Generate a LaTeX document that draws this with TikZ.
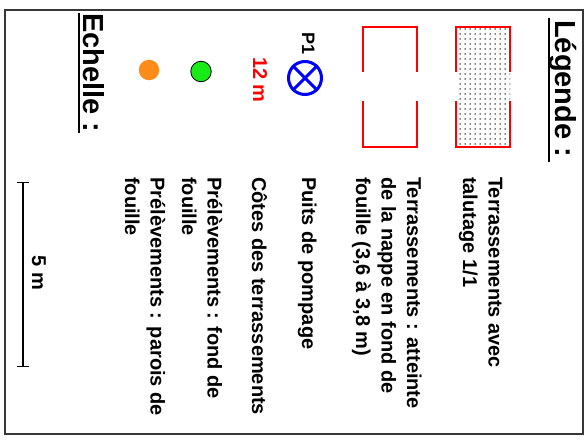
\documentclass[tikz,border=0pt]{standalone}
\usepackage{fontspec}
\setmainfont{Liberation Sans}
\usetikzlibrary{arrows.meta, patterns.meta}
\definecolor{zonered}{RGB}{255, 0, 0}
\definecolor{wellblue}{RGB}{0, 0, 255}
\definecolor{fondgreen}{RGB}{25, 235, 25}
\definecolor{paroiorange}{RGB}{255, 140, 25}
\definecolor{framegray}{RGB}{55, 55, 55}

\begin{document}
\begin{tikzpicture}[
        x=1pt, y=-1pt,
        legtext/.style={rotate=-90, anchor=base west, inner sep=0pt, align=left, font=\fontsize{20}{25.5}\selectfont\bfseries},
        legtitle/.style={rotate=-90, anchor=base west, inner sep=0pt, font=\fontsize{29}{34}\selectfont\bfseries},
        zone/.style={draw=zonered, line width=2pt},
        sample/.style={circle, minimum size=20.5pt, inner sep=0pt},
        scalebar/.style={{Bar[width=12pt]}-{Bar[width=12pt]}, line width=1.2pt}
    ]
        \useasboundingbox (0,0) rectangle (588,439);
        \draw[framegray, line width=2pt] (5,10) rectangle (583,434);

        % Titles
        \node[legtitle] (legende) at (555,20) {Légende :};
        \draw[line width=2pt] ([yshift=2pt]legende.south west) -- ([yshift=-5pt]legende.south east);
        \node[legtitle] (echelle) at (83,13) {Echelle :};
        \draw[line width=2pt] ([xshift=-4pt]echelle.south west) -- ([xshift=-4pt]echelle.south east);

        % Symbols (left column)
        \fill[pattern={Dots[distance=5pt, radius=0.75pt]}] (456,27) rectangle (510,147);
        \draw[zone] (456,72) |- (510,27) -- (510,72);
        \draw[zone] (456,101) |- (510,147) -- (510,101);
        \draw[zone] (363,72) |- (417,27) -- (417,72);
        \draw[zone] (363,101) |- (417,147) -- (417,101);
        \node[legtext, font=\fontsize{18}{20}\selectfont\bfseries] (p1lbl) at (302,32) {P1};
        \node[circle, draw=wellblue, line width=3pt, minimum size=33pt, inner sep=0pt] (p1) at (305,78) {};
        \draw[wellblue, line width=3pt] (p1.north east) -- (p1.south west) (p1.north west) -- (p1.south east);
        \node[legtext, text=zonered] (cote) at (253,57) {12 m};
        \node[sample, draw=black, thick, fill=fondgreen] (fond) at (201,71.5) {};
        \node[sample, fill=paroiorange] (paroi) at (149,70) {};

        % Descriptions (right column), placed by their last line
        \node[legtext] (t1) at (463,177) {Terrassements avec\\talutage 1/1};
        \node[legtext] (t2) at (356,177) {Terrassements : atteinte\\de la nappe en fond de\\fouille (3,6 à 3,8 m)};
        \node[legtext] (t3) at (302,177) {Puits de pompage};
        \node[legtext] (t4) at (252,177) {Côtes des terrassements};
        \node[legtext] (t5) at (182,177) {Prélèvements : fond de\\fouille};
        \node[legtext] (t6) at (125,177) {Prélèvements : parois de\\fouille};

        % Scale bar
        \coordinate (s0) at (23,182);
        \coordinate (s1) at (23,367);
        \draw[scalebar] (s0) -- (s1);
        \node[rotate=-90, anchor=base, inner sep=0pt, font=\fontsize{20}{22}\selectfont\bfseries] (scalelbl) at (32,273) {5 m};
\end{tikzpicture}
\end{document}
